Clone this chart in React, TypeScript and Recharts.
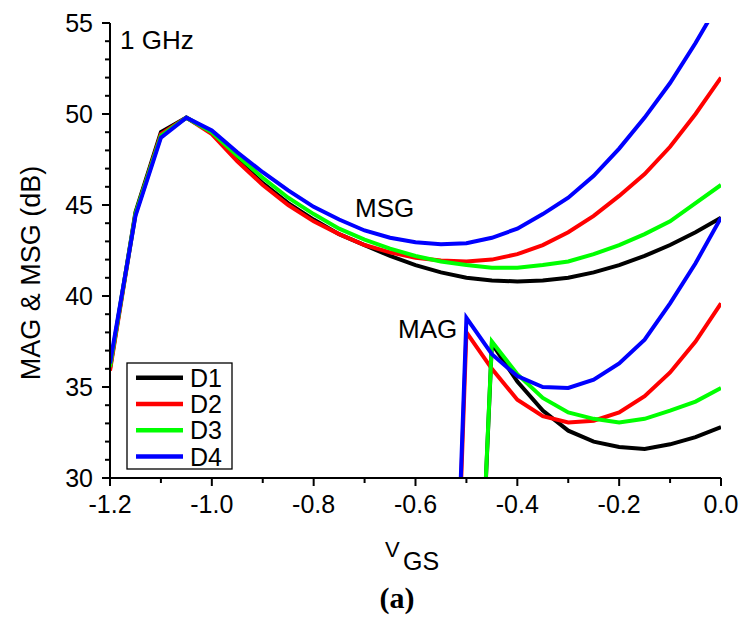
import React from 'react';
import { LineChart, Line, XAxis, YAxis } from 'recharts';

// gate voltage sweep (V)
const VGS = [
  -1.2, -1.15, -1.1, -1.05, -1.0, -0.95, -0.9, -0.85, -0.8, -0.75, -0.7, -0.65,
  -0.6, -0.55, -0.5, -0.45, -0.4, -0.35, -0.3, -0.25, -0.2, -0.15, -0.1, -0.05, 0.0,
];

// MSG (dB) for each device, one value per VGS point
const MSG_D1 = [36.0, 44.6, 49.0, 49.8, 49.0, 47.5, 46.2, 45.1, 44.2, 43.4, 42.8, 42.2, 41.7, 41.3, 41.0, 40.85, 40.8, 40.85, 41.0, 41.3, 41.7, 42.2, 42.8, 43.5, 44.3];
const MSG_D2 = [35.9, 44.5, 48.9, 49.8, 48.9, 47.4, 46.1, 45.0, 44.1, 43.4, 42.8, 42.4, 42.1, 41.95, 41.9, 42.0, 42.3, 42.8, 43.5, 44.4, 45.5, 46.7, 48.2, 50.0, 52.0];
const MSG_D3 = [36.1, 44.5, 48.8, 49.8, 49.0, 47.7, 46.5, 45.4, 44.5, 43.7, 43.1, 42.6, 42.2, 41.9, 41.7, 41.55, 41.55, 41.7, 41.9, 42.3, 42.8, 43.4, 44.1, 45.1, 46.1];
const MSG_D4 = [36.3, 44.4, 48.7, 49.8, 49.1, 47.9, 46.8, 45.8, 44.9, 44.2, 43.6, 43.2, 42.95, 42.85, 42.9, 43.2, 43.7, 44.5, 45.4, 46.6, 48.1, 49.8, 51.7, 53.9, 56.3];

// MAG (dB) only exists from -0.55 V upwards
const MAG_VGS = [-0.55, -0.5, -0.45, -0.4, -0.35, -0.3, -0.25, -0.2, -0.15, -0.1, -0.05, 0.0];
const MAG_D1 = [null, 5.5, 37.4, 35.3, 33.7, 32.6, 32.0, 31.7, 31.6, 31.85, 32.25, 32.8];
const MAG_D2 = [-1.5, 38.0, 36.0, 34.3, 33.4, 33.05, 33.15, 33.6, 34.5, 35.8, 37.5, 39.6];
const MAG_D3 = [null, 5.7, 37.5, 35.7, 34.4, 33.6, 33.25, 33.05, 33.25, 33.7, 34.2, 34.95];
const MAG_D4 = [-1.0, 38.8, 36.8, 35.6, 35.0, 34.95, 35.4, 36.3, 37.6, 39.6, 41.8, 44.3];

const X_TICKS = [-1.2, -1.1, -1.0, -0.9, -0.8, -0.7, -0.6, -0.5, -0.4, -0.3, -0.2, -0.1, 0.0];
const Y_TICKS = [
  30, 31, 32, 33, 34, 35, 36, 37, 38, 39, 40, 41, 42, 43, 44, 45, 46, 47, 48, 49,
  50, 51, 52, 53, 54, 55,
];

const SERIES = [
  { name: 'D1', color: '#000000', msg: MSG_D1, mag: MAG_D1 },
  { name: 'D2', color: '#ff0000', msg: MSG_D2, mag: MAG_D2 },
  { name: 'D3', color: '#00ff00', msg: MSG_D3, mag: MAG_D3 },
  { name: 'D4', color: '#0000ff', msg: MSG_D4, mag: MAG_D4 },
];

const data = VGS.map((x, i) => {
  const row: Record<string, number | null> = { x };
  const j = MAG_VGS.indexOf(x);
  SERIES.forEach(s => {
    row[`msg${s.name}`] = s.msg[i];
    row[`mag${s.name}`] = j >= 0 ? s.mag[j] : null;
  });
  return row;
});

const W = 743;
const H = 621;
const PLOT_LEFT = 110;
const PLOT_BOTTOM = 478;
const FONT = '"Liberation Sans", Arial, sans-serif';

function YTick(props: any) {
  const { y, payload } = props;
  const major = payload.value % 5 === 0;
  return (
    <g>
      <line x1={PLOT_LEFT} x2={PLOT_LEFT - (major ? 8 : 5)} y1={y} y2={y} stroke="#000" strokeWidth={2} />
      {major && (
        <text x={PLOT_LEFT - 17} y={y + 8.5} textAnchor="end" fontSize={25} fontFamily={FONT} fill="#000">
          {payload.value}
        </text>
      )}
    </g>
  );
}

function XTick(props: any) {
  const { x, payload } = props;
  const major = Math.abs(Math.round(payload.value * 10)) % 2 === 0;
  return (
    <g>
      <line x1={x} x2={x} y1={PLOT_BOTTOM} y2={PLOT_BOTTOM + (major ? 8 : 5)} stroke="#000" strokeWidth={2} />
      {major && (
        <text x={x} y={PLOT_BOTTOM + 35} textAnchor="middle" fontSize={25} fontFamily={FONT} fill="#000">
          {payload.value.toFixed(1)}
        </text>
      )}
    </g>
  );
}

export default function App() {
  return (
    <div style={{ position: 'absolute', left: 0, top: 0, width: W, height: H, background: '#fff' }}>
      <LineChart width={W} height={H} data={data} margin={{ top: 23, right: 22, left: 0, bottom: 103 }}>
        <XAxis
          dataKey="x"
          type="number"
          domain={[-1.2, 0]}
          ticks={X_TICKS}
          interval={0}
          allowDataOverflow
          height={40}
          tickLine={false}
          axisLine={{ stroke: '#000', strokeWidth: 2 }}
          tick={<XTick />}
        />
        <YAxis
          type="number"
          domain={[30, 55]}
          ticks={Y_TICKS}
          interval={0}
          allowDataOverflow
          width={110}
          tickLine={false}
          axisLine={{ stroke: '#000', strokeWidth: 2 }}
          tick={<YTick />}
        />
        {SERIES.map(s => (
          <Line
            key={`msg${s.name}`}
            type="linear"
            dataKey={`msg${s.name}`}
            stroke={s.color}
            strokeWidth={4}
            dot={false}
            isAnimationActive={false}
          />
        ))}
        {SERIES.map(s => (
          <Line
            key={`mag${s.name}`}
            type="linear"
            dataKey={`mag${s.name}`}
            stroke={s.color}
            strokeWidth={4}
            dot={false}
            connectNulls={false}
            isAnimationActive={false}
          />
        ))}
      </LineChart>
      <svg
        width={W}
        height={H}
        style={{ position: 'absolute', left: 0, top: 0, pointerEvents: 'none' }}
        fontFamily={FONT}
      >
        <text x={120} y={49} fontSize={26}>1 GHz</text>
        <text x={355} y={217} fontSize={26}>MSG</text>
        <text x={398} y={338} fontSize={26}>MAG</text>
        <text transform="translate(40,273) rotate(-90)" textAnchor="middle" fontSize={27}>
          MAG &amp; MSG (dB)
        </text>
        <text x={385} y={557} fontSize={22}>V</text>
        <text x={403} y={570} fontSize={25}>GS</text>
        <text x={397} y={608} textAnchor="middle" fontSize={30} fontWeight="bold" fontFamily='"Liberation Serif", serif'>
          (a)
        </text>
        <rect x={127} y={363} width={105} height={106} fill="#fff" stroke="#000" strokeWidth={1.3} />
        {SERIES.map((s, i) => {
          const cy = 377.7 + i * 26.3;
          return (
            <g key={s.name}>
              <line x1={136} x2={183} y1={cy} y2={cy} stroke={s.color} strokeWidth={4.5} />
              <text x={190} y={cy + 9} fontSize={25}>{s.name}</text>
            </g>
          );
        })}
      </svg>
    </div>
  );
}
